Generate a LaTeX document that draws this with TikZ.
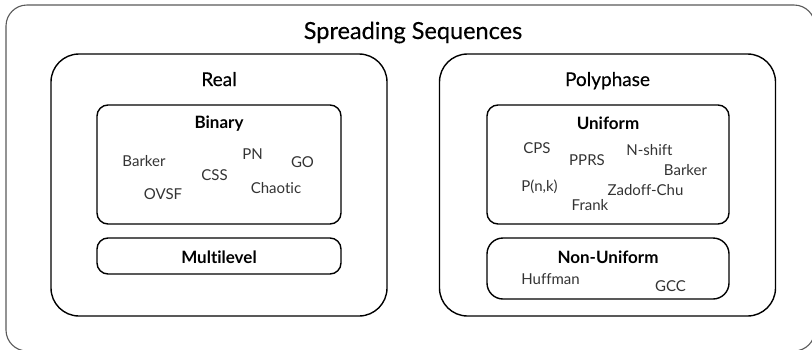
\documentclass[tikz,border=0pt]{standalone}
\usepackage{fontspec}
\setmainfont{Lato}[Ligatures=NoCommon]
\newfontfamily\headfont{Lato}[Ligatures=NoCommon, FakeBold=0.35]
\begin{document}
\begin{tikzpicture}[x=1pt,y=-1pt,
  container/.style={draw=black, line width=1.4pt, rectangle, inner sep=0pt},
  outerbox/.style={draw=black!65, line width=1.1pt, rectangle, inner sep=0pt, rounded corners=21pt},
  bigbox/.style={container, rounded corners=28pt},
  midbox/.style={container, rounded corners=11pt},
  maintitle/.style={anchor=base, inner sep=0pt, font=\headfont\fontsize{23.5}{28}\selectfont},
  grouptitle/.style={anchor=base, inner sep=0pt, font=\headfont\fontsize{19}{23}\selectfont},
  subtitle/.style={anchor=base, inner sep=0pt, font=\bfseries\fontsize{17}{20}\selectfont},
  item/.style={anchor=base, inner sep=0pt, text=black!80, font=\fontsize{15}{18}\selectfont}]
\useasboundingbox (0,0) rectangle (812,349);

% outer frame (runs past the right and bottom edges)
\node[outerbox, minimum width=809pt, minimum height=346pt] (frame) at (410.5,178) {};
\node[maintitle] (title) at (413,39) {Spreading Sequences};

% real-valued sequences
\node[bigbox, minimum width=336pt, minimum height=262pt] (real) at (219,185) {};
\node[grouptitle] (realT) at (219,86) {Real};
\node[midbox, minimum width=244pt, minimum height=119pt] (binary) at (219,164.5) {};
\node[subtitle] (binaryT) at (219,128) {Binary};
\node[item] (barkerB) at (144,166) {Barker};
\node[item] (css) at (214.5,180) {CSS};
\node[item] (pn) at (252.5,159) {PN};
\node[item] (go) at (302.5,167) {GO};
\node[item] (ovsf) at (163,199) {OVSF};
\node[item] (chaotic) at (276,193) {Chaotic};
\node[midbox, minimum width=244pt, minimum height=36pt] (multi) at (219,256) {};
\node[subtitle] (multiT) at (219,263) {Multilevel};

% polyphase sequences
\node[bigbox, minimum width=336pt, minimum height=262pt] (poly) at (607.5,185) {};
\node[grouptitle] (polyT) at (607.5,86) {Polyphase};
\node[midbox, minimum width=242pt, minimum height=119pt] (uniform) at (608,164.5) {};
\node[subtitle] (uniformT) at (608,129) {Uniform};
\node[item] (cps) at (537,153) {CPS};
\node[item] (pprs) at (587,165) {PPRS};
\node[item] (nshift) at (649.5,155) {N-shift};
\node[item] (barkerU) at (685.5,175) {Barker};
\node[item] (pnk) at (539.5,191) {P(n,k)};
\node[item] (zc) at (645.5,195) {Zadoff-Chu};
\node[item] (frank) at (590,210) {Frank};
\node[midbox, rounded corners=16pt, minimum width=242pt, minimum height=61pt] (nonuni) at (608,268.5) {};
\node[subtitle] (nonuniT) at (608,263) {Non-Uniform};
\node[item] (huffman) at (550.5,284) {Huffman};
\node[item] (gcc) at (670.5,291) {GCC};
\end{tikzpicture}
\end{document}
